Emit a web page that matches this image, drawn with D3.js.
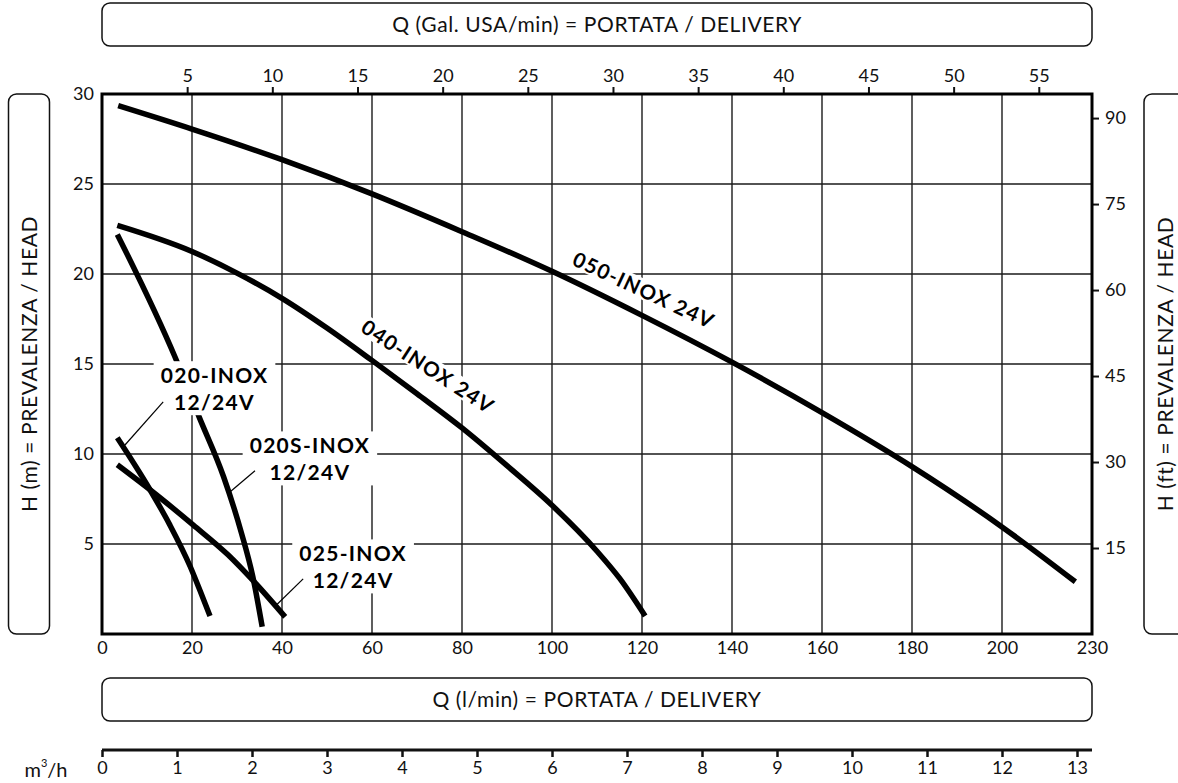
<!DOCTYPE html>
<html>
<head>
<meta charset="utf-8">
<script src="https://cdn.jsdelivr.net/npm/d3@7"></script>
<style>
  body { margin: 0; background: #fff; }
  svg { display: block; font-family: Lato, "Open Sans", sans-serif; }
</style>
</head>
<body>
<div class="pump-chart"></div>
<script>
// flow in l/min, head in m
const curve050 = [[3.6, 29.35], [20, 28.05], [40, 26.35], [60, 24.45], [80, 22.35], [100, 20.15], [120, 17.7], [140, 15.1], [160, 12.3], [180, 9.3], [200, 5.95], [216.3, 2.9]];
const curve040 = [[3.4, 22.7], [20, 21.25], [30, 20.05], [40, 18.65], [50, 17.0], [60, 15.2], [70, 13.35], [80, 11.45], [90, 9.35], [100, 7.15], [110, 4.6], [115, 3.1], [120.7, 1.0]];
const curve020 = [[3.4, 10.9], [10.7, 8.0], [15.1, 6.05], [19.6, 3.75], [21.8, 2.4], [24, 1.0]];
const curve020S = [[3.4, 22.2], [16.2, 15.4], [21.6, 12.05], [27, 8.75], [31, 5.6], [33.5, 3.2], [35.6, 0.4]];
const curve025 = [[3.4, 9.4], [12, 7.75], [20.3, 6.05], [28, 4.4], [34, 2.85], [40.7, 0.95]];

// tick values / labels
const lpmTicks = [0, 20, 40, 60, 80, 100, 120, 140, 160, 180, 200, 220];
const lpmLabels = ["0", "20", "40", "60", "80", "100", "120", "140", "160", "180", "200", "230"]; // sheet prints 230 at the end
const headTicks = [5, 10, 15, 20, 25, 30];
const ftTicks = [15, 30, 45, 60, 75, 90];
const galTicks = [5, 10, 15, 20, 25, 30, 35, 40, 45, 50, 55];
const m3hTicks = [0, 1, 2, 3, 4, 5, 6, 7, 8, 9, 10, 11, 12, 13];
const gridLpm = [20, 40, 60, 80, 100, 120, 140, 160, 180, 200];
const gridHead = [5, 10, 15, 20, 25];

// model labels (anchor in l/min, m)
const boxLabels = [
  { lines: ["020-INOX", "12/24V"], q: 25, h: 13.6, leader: [[13.6, 12.9], [5.1, 10.5]] },
  { lines: ["020S-INOX", "12/24V"], q: 46.2, h: 9.7, leader: [[34, 9.07], [28.1, 7.82]] },
  { lines: ["025-INOX", "12/24V"], q: 55.8, h: 3.7, leader: [[44.7, 3.06], [38.7, 1.6]] }
];
const curveLabels = [
  { text: "050-INOX 24V", q: 120.4, h: 19.1, angle: 25 },
  { text: "040-INOX 24V", q: 72.4, h: 14.85, angle: 33 }
];

const width = 1178, height = 783;

const x = d3.scaleLinear().domain([0, 220]).range([102, 1092]);
const y = d3.scaleLinear().domain([0, 30]).range([634, 94]);
const xGal = d3.scaleLinear().domain([0, 220 / 3.785]).range(x.range());
const yFt = d3.scaleLinear().domain([0, 94.2]).range(y.range());
const xM3h = d3.scaleLinear().domain([0, 13.2]).range(x.range());

const svg = d3.select(".pump-chart")
  .append("svg")
  .attr("width", width)
  .attr("height", height);

const ink = "#111";

// rounded caption boxes
function captionBox(bx, by, bw, bh, text, rotate) {
  const g = svg.append("g");
  g.append("rect")
    .attr("x", bx).attr("y", by)
    .attr("width", bw).attr("height", bh)
    .attr("rx", 8)
    .attr("fill", "none")
    .attr("stroke", ink)
    .attr("stroke-width", 1.5);
  const cx = bx + bw / 2, cy = by + bh / 2;
  g.append("text")
    .attr("transform", rotate ? `translate(${cx},${cy}) rotate(-90)` : `translate(${cx},${cy})`)
    .attr("text-anchor", "middle")
    .attr("dy", "0.36em")
    .attr("font-size", 21)
    .attr("letter-spacing", 0.6)
    .attr("fill", ink)
    .text(text);
}

const [x0, x1] = x.range();
const [yb, yt] = y.range();
captionBox(x0, 3, x1 - x0, 43, "Q (Gal. USA/min) = PORTATA / DELIVERY");
captionBox(x0, 678, x1 - x0, 43, "Q (l/min) = PORTATA / DELIVERY");
captionBox(8.5, yt, 41, yb - yt, "H (m) = PREVALENZA / HEAD", true);
captionBox(1144, yt, 42, yb - yt, "H (ft) = PREVALENZA / HEAD", true);

// grid
const grid = svg.append("g").attr("stroke", "#1a1a1a").attr("stroke-width", 1.4);
grid.selectAll(".vgrid")
  .data(gridLpm).join("line")
  .attr("x1", d => x(d)).attr("x2", d => x(d))
  .attr("y1", yt).attr("y2", yb);
grid.selectAll(".hgrid")
  .data(gridHead).join("line")
  .attr("y1", d => y(d)).attr("y2", d => y(d))
  .attr("x1", x0).attr("x2", x1);

// axes
function styleAxis(g, size) {
  g.attr("font-family", null).attr("font-size", size);
  g.selectAll("text").attr("fill", ink);
  g.selectAll("line").attr("stroke", ink).attr("stroke-width", 2);
  g.select(".domain").remove();
}

svg.append("g")
  .call(d3.axisLeft(y).tickValues(headTicks).tickSize(0).tickPadding(8))
  .call(g => styleAxis(g, 18))
  .attr("transform", `translate(${x0},0)`);

svg.append("g")
  .attr("transform", `translate(${x1},0)`)
  .call(d3.axisRight(yFt).tickValues(ftTicks).tickSize(7).tickPadding(6))
  .call(g => styleAxis(g, 18));

svg.append("g")
  .attr("transform", `translate(0,${yt})`)
  .call(d3.axisTop(xGal).tickValues(galTicks).tickSize(7).tickPadding(5))
  .call(g => styleAxis(g, 18));

svg.append("g")
  .attr("transform", `translate(0,${yb})`)
  .call(d3.axisBottom(x).tickValues(lpmTicks).tickSize(0).tickPadding(7)
    .tickFormat((d, i) => lpmLabels[i]))
  .call(g => styleAxis(g, 18));

// m3/h scale
const m3hAxis = svg.append("g")
  .attr("transform", "translate(0,750)")
  .call(d3.axisBottom(xM3h).tickValues(m3hTicks).tickSize(7).tickSizeOuter(0).tickPadding(4))
  .call(g => {
    g.attr("font-family", null).attr("font-size", 18);
    g.selectAll("text").attr("fill", ink);
    g.selectAll(".tick line").attr("stroke", ink).attr("stroke-width", 2.5);
  });
m3hAxis.select(".domain")
  .attr("d", `M${x0},0H${x1}`)
  .attr("stroke", ink)
  .attr("stroke-width", 3);

const unit = svg.append("text")
  .attr("x", 46).attr("y", 777)
  .attr("text-anchor", "middle")
  .attr("font-size", 20)
  .attr("fill", ink)
  .text("m");
unit.append("tspan").attr("font-size", 11).attr("dy", -10).text("3");
unit.append("tspan").attr("dy", 10).text("/h");

// curves
const line = d3.line()
  .x(d => x(d[0]))
  .y(d => y(d[1]))
  .curve(d3.curveMonotoneX);

svg.append("g")
  .attr("fill", "none")
  .attr("stroke", "#000")
  .attr("stroke-width", 5.5)
  .selectAll("path")
  .data([curve050, curve040, curve020, curve020S, curve025])
  .join("path")
  .attr("d", line);

// frame
svg.append("rect")
  .attr("x", x0).attr("y", yt)
  .attr("width", x1 - x0).attr("height", yb - yt)
  .attr("fill", "none")
  .attr("stroke", "#000")
  .attr("stroke-width", 3);

// rotated labels along 050 / 040
curveLabels.forEach(d => {
  const g = svg.append("g")
    .attr("transform", `translate(${x(d.q)},${y(d.h)}) rotate(${d.angle})`);
  const t = g.append("text")
    .attr("text-anchor", "middle")
    .attr("dy", "0.36em")
    .attr("font-size", 20.5)
    .attr("font-weight", "bold")
    .attr("letter-spacing", 1.3)
    .attr("fill", "#000")
    .text(d.text);
  const bb = t.node().getBBox();
  g.insert("rect", "text")
    .attr("x", bb.x - 3).attr("y", bb.y + 2)
    .attr("width", bb.width + 6).attr("height", bb.height - 4)
    .attr("fill", "#fff");
});

// boxed labels for the small pumps
boxLabels.forEach(d => {
  const g = svg.append("g")
    .attr("transform", `translate(${x(d.q)},${y(d.h)})`);
  const t = g.append("text")
    .attr("text-anchor", "middle")
    .attr("font-size", 21)
    .attr("font-weight", "bold")
    .attr("letter-spacing", 1.3)
    .attr("fill", "#000");
  t.selectAll("tspan")
    .data(d.lines)
    .join("tspan")
    .attr("x", 0)
    .attr("y", (s, i) => i === 0 ? -6 : 21)
    .text(s => s);
  const bb = t.node().getBBox();
  g.insert("rect", "text")
    .attr("x", bb.x - 7).attr("y", bb.y - 1)
    .attr("width", bb.width + 14).attr("height", bb.height + 2)
    .attr("fill", "#fff");

  svg.append("line")
    .attr("x1", x(d.leader[0][0])).attr("y1", y(d.leader[0][1]))
    .attr("x2", x(d.leader[1][0])).attr("y2", y(d.leader[1][1]))
    .attr("stroke", "#000")
    .attr("stroke-width", 1.2);
});
</script>
</body>
</html>
